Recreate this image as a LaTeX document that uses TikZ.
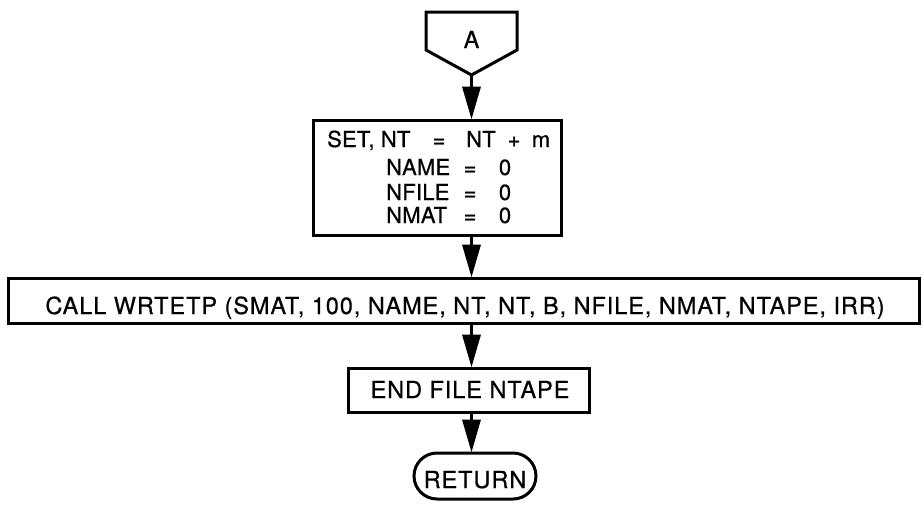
\documentclass[tikz,border=0pt]{standalone}
\usepackage{fontspec}
\setmainfont{TeX Gyre Heros}
\newfontfamily\boxface[LetterSpace=1,FakeBold=0.6]{TeX Gyre Heros}
\newfontfamily\wideface[LetterSpace=4,FakeBold=0.6]{TeX Gyre Heros}
\usetikzlibrary{arrows.meta,shapes.misc}

\tikzset{
  stroke/.style={line width=3pt, line join=miter},
  procbox/.style={stroke, draw, rectangle, inner sep=0pt},
  termbox/.style={stroke, draw, rounded rectangle, inner sep=0pt},
  flow/.style={line width=3.5pt, -{Triangle[length=33pt,width=18pt]}, shorten >=-1pt},
  txt/.style={inner sep=0pt, font=\boxface\fontsize{22}{26}\selectfont},
  bigtxt/.style={inner sep=0pt, anchor=base, font=\wideface\fontsize{23.5}{28}\selectfont},
}

\begin{document}
\begin{tikzpicture}[x=1pt,y=-1pt]
  \useasboundingbox (0,0) rectangle (923,507);

  % off-page connector
  \coordinate (conA) at (471.5,75);
  \draw[stroke] (426,12) -- (517,12) -- (517,50) -- (conA) -- (426,50) -- cycle;
  \node[bigtxt] (labA) at (471.5,48) {A};

  % initialisation box
  \node[procbox, minimum width=248pt, minimum height=115pt] (set) at (437,177.5) {};
  \node[txt, anchor=base west] (s1a) at (327,147) {SET, NT};
  \node[txt, anchor=base] (s1b) at (439,147) {=};
  \node[txt, anchor=base west] (s1c) at (466,147) {NT};
  \node[txt, anchor=base] (s1d) at (514,147) {+};
  \node[txt, anchor=base] (s1e) at (541,147) {m};
  \node[txt, anchor=base west] (s2a) at (386,175) {NAME};
  \node[txt, anchor=base] (s2b) at (470,175) {=};
  \node[txt, anchor=base] (s2c) at (505,175) {0};
  \node[txt, anchor=base west] (s3a) at (386,200) {NFILE};
  \node[txt, anchor=base] (s3b) at (470,200) {=};
  \node[txt, anchor=base] (s3c) at (505,200) {0};
  \node[txt, anchor=base west] (s4a) at (386,223) {NMAT};
  \node[txt, anchor=base] (s4b) at (470,223) {=};
  \node[txt, anchor=base] (s4c) at (505,223) {0};

  % subroutine call
  \node[procbox, minimum width=911pt, minimum height=45pt] (call) at (463.5,300.5) {};
  \node[bigtxt] (calltxt) at (465,314) {CALL WRTETP (SMAT, 100, NAME, NT, NT, B, NFILE, NMAT, NTAPE, IRR)};

  % end of file
  \node[procbox, minimum width=241pt, minimum height=44pt] (endf) at (468.5,390) {};
  \node[bigtxt] (endtxt) at (470,398) {END FILE NTAPE};

  % terminal
  \node[termbox, minimum width=122pt, minimum height=46pt] (ret) at (475,476) {};
  \node[bigtxt] (rettxt) at (475,488) {RETURN};

  % flow lines
  \draw[flow] (conA) -- (set.north -| conA);
  \draw[flow] (set.south -| conA) -- (call.north -| conA);
  \draw[flow] (call.south -| conA) -- (endf.north -| conA);
  \draw[flow] (endf.south -| conA) -- (ret.north -| conA);
\end{tikzpicture}
\end{document}
